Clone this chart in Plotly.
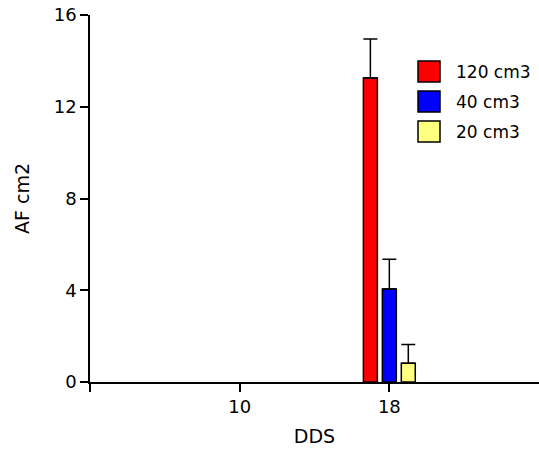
import plotly.graph_objects as go

categories = ["10", "18"]
series_names = ["120 cm3", "40 cm3", "20 cm3"]
series_values = [
    [None, 13.25],
    [None, 4.05],
    [None, 0.82],
]
series_errors = [
    [0, 1.7],
    [0, 1.3],
    [0, 0.82],
]
series_colors = ["#FF0000", "#0000FF", "#FFFF80"]
y_ticks = [0, 4, 8, 12, 16]
x_positions = [1, 2]

FONT = "DejaVu Sans, Arial"

fig = go.Figure()
for name, vals, errs, col in zip(series_names, series_values, series_errors, series_colors):
    fig.add_trace(go.Bar(
        x=x_positions, y=vals, name=name,
        marker=dict(color=col, line=dict(color="black", width=1.5)),
        error_y=dict(type="data", symmetric=False, array=errs, arrayminus=[0, 0],
                     color="black", thickness=1.5, width=7),
        showlegend=False,
    ))

# manual legend (large swatches like the reference)
W, H = 539, 452
ml, mr, mt, mb = 90, 0, 15, 70
pw, ph = W - ml - mr, H - mt - mb
def px_x(x):
    return (x - ml) / pw
def px_y(y):
    return 1 - (y - mt) / ph

shapes = []
annotations = []
for i, (name, col) in enumerate(zip(series_names, series_colors)):
    top = 61 + i * 30
    shapes.append(dict(type="rect", xref="paper", yref="paper",
                       x0=px_x(418), x1=px_x(440), y0=px_y(top + 21), y1=px_y(top),
                       fillcolor=col, line=dict(color="black", width=1.5)))
    annotations.append(dict(xref="paper", yref="paper", x=px_x(454), y=px_y(top + 10.5),
                            text=name, showarrow=False, xanchor="left", yanchor="middle",
                            font=dict(size=17, color="black", family=FONT)))

fig.update_layout(
    width=W, height=H,
    margin=dict(l=ml, r=mr, t=mt, b=mb, pad=0),
    paper_bgcolor="white", plot_bgcolor="white",
    barmode="group", bargap=0.62, bargroupgap=0.263,
    font=dict(family=FONT, size=17, color="black"),
    shapes=shapes, annotations=annotations,
    xaxis=dict(range=[0, 3], tickvals=[0] + x_positions, ticktext=[""] + categories,
               showgrid=False, zeroline=False, showline=True, linecolor="black", linewidth=1.5,
               ticks="outside", ticklen=8, tickwidth=1.5, tickcolor="black",
               tickfont=dict(size=18),
               title=dict(text="DDS", standoff=13, font=dict(size=19))),
    yaxis=dict(range=[0, 16], tickvals=y_ticks,
               showgrid=False, zeroline=False, showline=True, linecolor="black", linewidth=1.5,
               ticks="outside", ticklen=8, tickwidth=1.5, tickcolor="black",
               tickfont=dict(size=18),
               title=dict(text="AF cm2", standoff=19, font=dict(size=19))),
)

fig.write_html("out.html", config={"displayModeBar": False},
               post_script=("document.documentElement.style.margin='0';"
                            "document.documentElement.style.overflow='hidden';"
                            "document.body.style.margin='0';document.body.style.overflow='hidden';"))
